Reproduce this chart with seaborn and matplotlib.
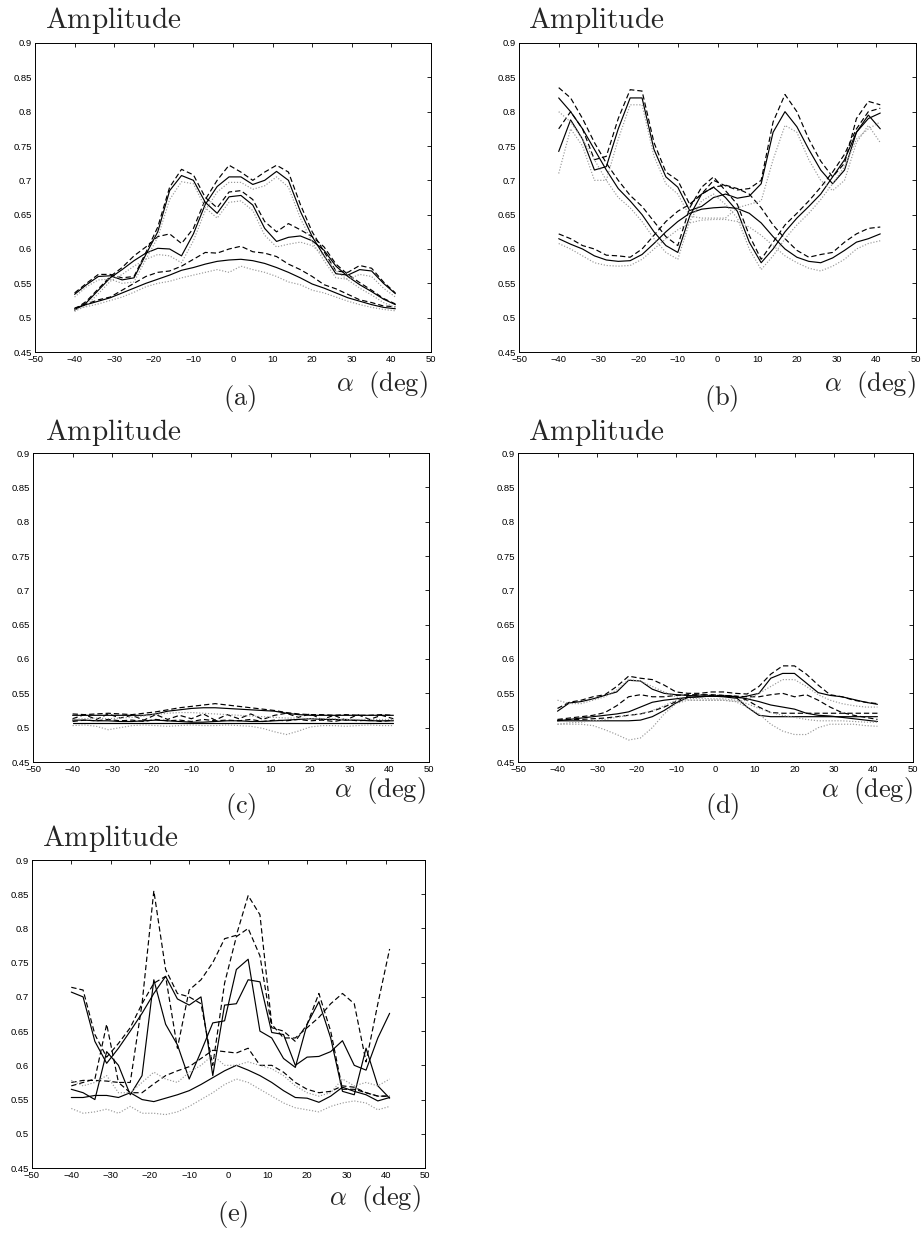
import numpy as np
import pandas as pd
import matplotlib
matplotlib.use("Agg")
import matplotlib.pyplot as plt
import seaborn as sns

# beam direction (deg)
alpha = [-40, -37, -34, -31, -28, -25, -22, -19, -16, -13, -10, -7, -4, -1,
         2, 5, 8, 11, 14, 17, 20, 23, 26, 29, 32, 35, 38, 41]

# ---- panel (a) ----
a_solid_1 = [0.534, 0.548, 0.560, 0.561, 0.555, 0.558, 0.592, 0.625, 0.685, 0.707, 0.700, 0.668, 0.652, 0.676,
             0.678, 0.664, 0.630, 0.611, 0.617, 0.619, 0.612, 0.598, 0.575, 0.560, 0.548, 0.538, 0.527, 0.519]
a_solid_2 = [0.511, 0.522, 0.540, 0.558, 0.570, 0.583, 0.594, 0.601, 0.600, 0.590, 0.622, 0.665, 0.691, 0.705,
             0.705, 0.694, 0.700, 0.713, 0.700, 0.655, 0.618, 0.590, 0.564, 0.562, 0.570, 0.568, 0.550, 0.535]
a_solid_3 = [0.513, 0.519, 0.524, 0.529, 0.536, 0.543, 0.550, 0.556, 0.562, 0.569, 0.573, 0.578, 0.582, 0.584,
             0.585, 0.583, 0.579, 0.573, 0.566, 0.558, 0.549, 0.543, 0.536, 0.529, 0.524, 0.519, 0.515, 0.513]
a_dash_1 = [0.536, 0.550, 0.563, 0.563, 0.558, 0.560, 0.595, 0.632, 0.690, 0.716, 0.708, 0.675, 0.660, 0.683,
            0.685, 0.672, 0.640, 0.625, 0.637, 0.628, 0.618, 0.603, 0.578, 0.563, 0.551, 0.540, 0.528, 0.520]
a_dash_2 = [0.512, 0.524, 0.542, 0.560, 0.573, 0.590, 0.603, 0.618, 0.622, 0.608, 0.630, 0.672, 0.700, 0.722,
            0.712, 0.700, 0.712, 0.722, 0.712, 0.665, 0.625, 0.596, 0.568, 0.566, 0.576, 0.572, 0.552, 0.536]
a_dash_3 = [0.514, 0.520, 0.526, 0.530, 0.540, 0.550, 0.560, 0.566, 0.568, 0.575, 0.585, 0.595, 0.594, 0.600,
            0.604, 0.596, 0.594, 0.589, 0.578, 0.570, 0.560, 0.548, 0.542, 0.534, 0.526, 0.522, 0.517, 0.516]
a_dot_1 = [0.530, 0.545, 0.555, 0.556, 0.550, 0.552, 0.585, 0.617, 0.672, 0.698, 0.695, 0.660, 0.645, 0.668,
           0.670, 0.656, 0.620, 0.603, 0.607, 0.610, 0.605, 0.590, 0.568, 0.555, 0.543, 0.533, 0.522, 0.515]
a_dot_2 = [0.509, 0.518, 0.535, 0.553, 0.563, 0.575, 0.585, 0.592, 0.590, 0.580, 0.612, 0.656, 0.683, 0.697,
           0.697, 0.687, 0.692, 0.705, 0.690, 0.645, 0.610, 0.583, 0.558, 0.556, 0.563, 0.560, 0.543, 0.530]
a_dot_3 = [0.512, 0.516, 0.520, 0.525, 0.530, 0.537, 0.545, 0.550, 0.553, 0.558, 0.562, 0.566, 0.570, 0.566,
           0.575, 0.570, 0.566, 0.560, 0.552, 0.548, 0.540, 0.536, 0.530, 0.524, 0.519, 0.515, 0.512, 0.510]

# ---- panel (b) ----
b_solid_1 = [0.742, 0.788, 0.760, 0.715, 0.720, 0.775, 0.820, 0.820, 0.745, 0.705, 0.690, 0.656, 0.662, 0.675,
             0.680, 0.674, 0.677, 0.695, 0.770, 0.800, 0.778, 0.745, 0.715, 0.695, 0.715, 0.770, 0.795, 0.775]
b_solid_2 = [0.820, 0.800, 0.775, 0.745, 0.715, 0.688, 0.670, 0.650, 0.625, 0.605, 0.595, 0.648, 0.680, 0.690,
             0.675, 0.655, 0.610, 0.580, 0.600, 0.625, 0.645, 0.662, 0.680, 0.705, 0.730, 0.770, 0.790, 0.798]
b_solid_3 = [0.615, 0.607, 0.600, 0.590, 0.584, 0.582, 0.583, 0.592, 0.608, 0.625, 0.640, 0.652, 0.658, 0.660,
             0.661, 0.659, 0.652, 0.638, 0.618, 0.600, 0.588, 0.582, 0.580, 0.587, 0.598, 0.610, 0.615, 0.622]
b_dash_1 = [0.775, 0.800, 0.775, 0.730, 0.735, 0.790, 0.832, 0.830, 0.755, 0.712, 0.700, 0.665, 0.680, 0.700,
            0.692, 0.686, 0.688, 0.700, 0.785, 0.825, 0.800, 0.760, 0.728, 0.705, 0.725, 0.790, 0.815, 0.810]
b_dash_2 = [0.835, 0.820, 0.790, 0.755, 0.725, 0.700, 0.678, 0.662, 0.640, 0.618, 0.605, 0.660, 0.690, 0.705,
            0.685, 0.665, 0.620, 0.585, 0.610, 0.635, 0.652, 0.670, 0.690, 0.712, 0.738, 0.775, 0.800, 0.805]
b_dash_3 = [0.622, 0.615, 0.605, 0.600, 0.591, 0.590, 0.588, 0.600, 0.620, 0.640, 0.655, 0.665, 0.680, 0.690,
            0.693, 0.688, 0.680, 0.660, 0.635, 0.615, 0.598, 0.588, 0.592, 0.595, 0.610, 0.622, 0.630, 0.632]
b_dot_1 = [0.710, 0.775, 0.750, 0.700, 0.700, 0.760, 0.810, 0.810, 0.735, 0.695, 0.680, 0.648, 0.645, 0.645,
           0.645, 0.660, 0.665, 0.670, 0.730, 0.780, 0.770, 0.730, 0.700, 0.685, 0.700, 0.755, 0.780, 0.755]
b_dot_2 = [0.800, 0.785, 0.760, 0.730, 0.700, 0.675, 0.660, 0.640, 0.615, 0.595, 0.585, 0.640, 0.670, 0.680,
           0.665, 0.645, 0.600, 0.570, 0.590, 0.615, 0.635, 0.652, 0.672, 0.695, 0.720, 0.760, 0.775, 0.785]
b_dot_3 = [0.608, 0.600, 0.590, 0.580, 0.576, 0.575, 0.576, 0.585, 0.600, 0.615, 0.628, 0.638, 0.642, 0.643,
           0.643, 0.640, 0.632, 0.620, 0.605, 0.590, 0.580, 0.572, 0.568, 0.575, 0.585, 0.600, 0.608, 0.612]

# ---- panel (c) ----
c_solid_1 = [0.518, 0.518, 0.518, 0.518, 0.518, 0.518, 0.518, 0.520, 0.524, 0.526, 0.528, 0.529, 0.529, 0.528,
             0.527, 0.526, 0.525, 0.524, 0.521, 0.519, 0.518, 0.518, 0.518, 0.518, 0.518, 0.518, 0.518, 0.518]
c_solid_2 = [0.511, 0.511, 0.510, 0.510, 0.509, 0.509, 0.510, 0.511, 0.510, 0.509, 0.508, 0.508, 0.509, 0.510,
             0.510, 0.509, 0.509, 0.510, 0.511, 0.512, 0.513, 0.512, 0.512, 0.511, 0.511, 0.510, 0.510, 0.510]
c_solid_3 = [0.507, 0.507, 0.507, 0.507, 0.507, 0.507, 0.507, 0.507, 0.507, 0.507, 0.507, 0.507, 0.507, 0.507,
             0.507, 0.507, 0.507, 0.507, 0.507, 0.507, 0.507, 0.507, 0.507, 0.507, 0.507, 0.507, 0.507, 0.507]
c_dash_1 = [0.520, 0.519, 0.520, 0.521, 0.520, 0.519, 0.521, 0.523, 0.526, 0.529, 0.531, 0.533, 0.535, 0.533,
            0.531, 0.529, 0.527, 0.525, 0.522, 0.520, 0.519, 0.519, 0.518, 0.519, 0.518, 0.518, 0.519, 0.518]
c_dash_2 = [0.513, 0.519, 0.512, 0.520, 0.514, 0.518, 0.511, 0.519, 0.512, 0.518, 0.513, 0.520, 0.511, 0.519,
            0.513, 0.520, 0.512, 0.518, 0.521, 0.515, 0.520, 0.512, 0.518, 0.511, 0.519, 0.512, 0.518, 0.513]
c_dash_3 = [0.509, 0.511, 0.510, 0.512, 0.510, 0.511, 0.509, 0.512, 0.510, 0.511, 0.509, 0.512, 0.510, 0.511,
            0.510, 0.512, 0.509, 0.511, 0.510, 0.512, 0.510, 0.511, 0.509, 0.512, 0.510, 0.511, 0.509, 0.511]
c_dot_1 = [0.503, 0.504, 0.502, 0.497, 0.500, 0.503, 0.504, 0.503, 0.502, 0.503, 0.504, 0.503, 0.503, 0.504,
           0.503, 0.502, 0.499, 0.494, 0.490, 0.495, 0.501, 0.503, 0.503, 0.502, 0.503, 0.504, 0.503, 0.503]
c_dot_2 = [0.512, 0.513, 0.514, 0.513, 0.514, 0.515, 0.517, 0.519, 0.521, 0.522, 0.522, 0.521, 0.520, 0.519,
           0.518, 0.517, 0.516, 0.515, 0.514, 0.514, 0.513, 0.513, 0.513, 0.512, 0.512, 0.512, 0.512, 0.512]

# ---- panel (d) ----
d_solid_1 = [0.524, 0.536, 0.538, 0.542, 0.547, 0.552, 0.569, 0.568, 0.556, 0.550, 0.548, 0.547, 0.546, 0.546,
             0.545, 0.543, 0.546, 0.550, 0.572, 0.579, 0.579, 0.565, 0.551, 0.547, 0.545, 0.541, 0.537, 0.534]
d_solid_2 = [0.510, 0.512, 0.514, 0.516, 0.518, 0.520, 0.523, 0.530, 0.537, 0.540, 0.542, 0.544, 0.545, 0.546,
             0.546, 0.545, 0.542, 0.538, 0.533, 0.530, 0.527, 0.521, 0.518, 0.517, 0.515, 0.513, 0.511, 0.509]
d_solid_3 = [0.510, 0.510, 0.510, 0.510, 0.510, 0.510, 0.510, 0.511, 0.516, 0.525, 0.536, 0.544, 0.545, 0.546,
             0.546, 0.545, 0.530, 0.518, 0.516, 0.516, 0.516, 0.516, 0.516, 0.516, 0.516, 0.516, 0.516, 0.516]
d_dash_1 = [0.528, 0.537, 0.540, 0.545, 0.548, 0.560, 0.575, 0.572, 0.570, 0.562, 0.552, 0.550, 0.550, 0.552,
            0.552, 0.550, 0.549, 0.560, 0.578, 0.590, 0.590, 0.578, 0.562, 0.548, 0.545, 0.540, 0.537, 0.535]
d_dash_2 = [0.512, 0.514, 0.516, 0.518, 0.522, 0.532, 0.545, 0.548, 0.545, 0.545, 0.547, 0.548, 0.548, 0.547,
            0.547, 0.546, 0.545, 0.545, 0.548, 0.550, 0.545, 0.548, 0.540, 0.530, 0.522, 0.518, 0.515, 0.512]
d_dash_3 = [0.511, 0.512, 0.512, 0.513, 0.514, 0.516, 0.518, 0.520, 0.524, 0.530, 0.538, 0.546, 0.548, 0.548,
            0.547, 0.546, 0.540, 0.530, 0.522, 0.521, 0.521, 0.521, 0.521, 0.521, 0.521, 0.521, 0.521, 0.521]
d_dot_1 = [0.540, 0.535, 0.535, 0.540, 0.545, 0.555, 0.570, 0.568, 0.560, 0.552, 0.545, 0.540, 0.540, 0.540,
           0.540, 0.538, 0.540, 0.550, 0.560, 0.570, 0.570, 0.560, 0.548, 0.540, 0.535, 0.532, 0.530, 0.530]
d_dot_2 = [0.505, 0.505, 0.505, 0.503, 0.497, 0.490, 0.482, 0.485, 0.500, 0.520, 0.535, 0.540, 0.540, 0.540,
           0.540, 0.538, 0.530, 0.520, 0.505, 0.495, 0.490, 0.490, 0.500, 0.505, 0.505, 0.505, 0.503, 0.502]
d_dot_3 = [0.505, 0.507, 0.508, 0.510, 0.512, 0.515, 0.518, 0.520, 0.525, 0.532, 0.540, 0.542, 0.543, 0.542,
           0.542, 0.540, 0.535, 0.528, 0.522, 0.518, 0.515, 0.512, 0.510, 0.510, 0.510, 0.509, 0.508, 0.508]

# ---- panel (e) ----
e_solid_1 = [0.707, 0.700, 0.635, 0.603, 0.625, 0.650, 0.676, 0.705, 0.730, 0.697, 0.688, 0.700, 0.585, 0.688,
             0.690, 0.725, 0.722, 0.648, 0.645, 0.600, 0.612, 0.613, 0.620, 0.636, 0.600, 0.593, 0.640, 0.676]
e_solid_2 = [0.565, 0.560, 0.550, 0.620, 0.600, 0.557, 0.585, 0.725, 0.660, 0.630, 0.580, 0.620, 0.662, 0.665,
             0.740, 0.755, 0.650, 0.640, 0.610, 0.597, 0.660, 0.693, 0.640, 0.562, 0.557, 0.625, 0.570, 0.552]
e_solid_3 = [0.553, 0.553, 0.556, 0.556, 0.553, 0.560, 0.550, 0.547, 0.552, 0.557, 0.563, 0.572, 0.582, 0.592,
             0.600, 0.593, 0.585, 0.575, 0.563, 0.553, 0.552, 0.546, 0.555, 0.568, 0.562, 0.557, 0.548, 0.553]
e_dash_1 = [0.714, 0.710, 0.645, 0.612, 0.632, 0.655, 0.690, 0.855, 0.740, 0.705, 0.700, 0.690, 0.600, 0.720,
            0.788, 0.800, 0.760, 0.655, 0.650, 0.635, 0.660, 0.705, 0.650, 0.565, 0.565, 0.560, 0.555, 0.555]
e_dash_2 = [0.570, 0.575, 0.580, 0.660, 0.575, 0.575, 0.690, 0.720, 0.730, 0.625, 0.710, 0.725, 0.750, 0.785,
            0.790, 0.848, 0.820, 0.660, 0.640, 0.640, 0.655, 0.670, 0.690, 0.705, 0.690, 0.605, 0.690, 0.770]
e_dash_3 = [0.575, 0.578, 0.578, 0.577, 0.575, 0.560, 0.560, 0.573, 0.585, 0.592, 0.598, 0.610, 0.622, 0.620,
            0.618, 0.625, 0.600, 0.600, 0.590, 0.575, 0.565, 0.560, 0.562, 0.570, 0.568, 0.560, 0.555, 0.555]
e_dot_1 = [0.537, 0.530, 0.532, 0.536, 0.530, 0.540, 0.530, 0.530, 0.528, 0.532, 0.540, 0.550, 0.560, 0.572,
           0.580, 0.575, 0.565, 0.555, 0.545, 0.538, 0.535, 0.532, 0.540, 0.545, 0.548, 0.545, 0.535, 0.540]
e_dot_2 = [0.578, 0.570, 0.575, 0.585, 0.560, 0.560, 0.575, 0.590, 0.580, 0.575, 0.590, 0.600, 0.615, 0.600,
           0.600, 0.605, 0.600, 0.595, 0.585, 0.570, 0.560, 0.555, 0.560, 0.580, 0.570, 0.575, 0.570, 0.580]

panel_curves = {
    "a": {"solid": [a_solid_1, a_solid_2, a_solid_3], "dashed": [a_dash_1, a_dash_2, a_dash_3],
          "dotted": [a_dot_1, a_dot_2, a_dot_3]},
    "b": {"solid": [b_solid_1, b_solid_2, b_solid_3], "dashed": [b_dash_1, b_dash_2, b_dash_3],
          "dotted": [b_dot_1, b_dot_2, b_dot_3]},
    "c": {"solid": [c_solid_1, c_solid_2, c_solid_3], "dashed": [c_dash_1, c_dash_2, c_dash_3],
          "dotted": [c_dot_1, c_dot_2]},
    "d": {"solid": [d_solid_1, d_solid_2, d_solid_3], "dashed": [d_dash_1, d_dash_2, d_dash_3],
          "dotted": [d_dot_1, d_dot_2, d_dot_3]},
    "e": {"solid": [e_solid_1, e_solid_2, e_solid_3], "dashed": [e_dash_1, e_dash_2, e_dash_3],
          "dotted": [e_dot_1, e_dot_2]},
}

x_ticks = [-50, -40, -30, -20, -10, 0, 10, 20, 30, 40, 50]
y_ticks = [0.45, 0.5, 0.55, 0.6, 0.65, 0.7, 0.75, 0.8, 0.85, 0.9]
y_tick_labels = ["0.45", "0.5", "0.55", "0.6", "0.65", "0.7", "0.75", "0.8", "0.85", "0.9"]

W, H = 921, 1234

# axes boxes in pixels: left, right, top, bottom
boxes = {
    "a": (35, 431, 43, 352),
    "b": (519, 916, 43, 352),
    "c": (33, 429, 453, 762),
    "d": (518, 913, 453, 762),
    "e": (32, 425, 860, 1168),
}
# text anchors (pixels): amplitude (x, y), alpha label (right x, y), panel letter (x, y)
labels = {
    "a": ((45, 20), (428, 384), (240, 398)),
    "b": ((528, 20), (916, 384), (721, 398)),
    "c": ((45, 432), (426, 791), (241, 806)),
    "d": ((528, 432), (913, 791), (722, 806)),
    "e": ((42, 838), (421, 1199), (233, 1214)),
}


def long_form(curves):
    rows = []
    for kind, series in curves.items():
        for i, ys in enumerate(series):
            for xv, yv in zip(alpha, ys):
                rows.append({"alpha": xv, "amp": yv, "kind": kind, "curve": f"{kind}{i}"})
    return pd.DataFrame(rows)


sns.set_style("white")
plt.rcParams["font.family"] = ["Liberation Sans", "DejaVu Sans"]
plt.rcParams["mathtext.fontset"] = "cm"
plt.rcParams["xtick.direction"] = "in"
plt.rcParams["ytick.direction"] = "in"

fig = plt.figure(figsize=(W / 100, H / 100), dpi=100)

palette = {"solid": "black", "dashed": "black", "dotted": "0.6"}
dashes = {"solid": "", "dashed": (4.5, 2.5), "dotted": (1, 1.5)}

for key, (l, r, t, b) in boxes.items():
    ax = fig.add_axes([l / W, 1 - b / H, (r - l) / W, (b - t) / H])
    df = long_form(panel_curves[key])
    sns.lineplot(data=df, x="alpha", y="amp", hue="kind", style="kind", units="curve",
                 estimator=None, palette=palette, dashes=dashes, legend=False,
                 linewidth=0.85, ax=ax, sort=False)
    ax.set_xlim(-50, 50)
    ax.set_ylim(0.45, 0.9)
    ax.set_xticks(x_ticks)
    ax.set_yticks(y_ticks)
    ax.set_yticklabels(y_tick_labels)
    ax.tick_params(labelsize=6.8, length=3, width=0.6, top=True, right=True, pad=2, colors="black")
    ax.set_xlabel("")
    ax.set_ylabel("")
    for s in ax.spines.values():
        s.set_visible(True)
        s.set_color("black")
        s.set_linewidth(0.7)

    (ax_x, ax_y), (al_x, al_y), (lt_x, lt_y) = labels[key]
    fig.text(ax_x / W, 1 - ax_y / H, r"$\mathrm{Amplitude}$", fontsize=21, ha="left", va="center")
    fig.text(al_x / W, 1 - al_y / H, r"$\alpha\ \ \mathrm{(deg)}$", fontsize=19, ha="right", va="center")
    fig.text(lt_x / W, 1 - lt_y / H, r"$\mathrm{(" + key + ")}$", fontsize=19, ha="center", va="center")

fig.savefig("out.png", dpi=100, facecolor="white")
